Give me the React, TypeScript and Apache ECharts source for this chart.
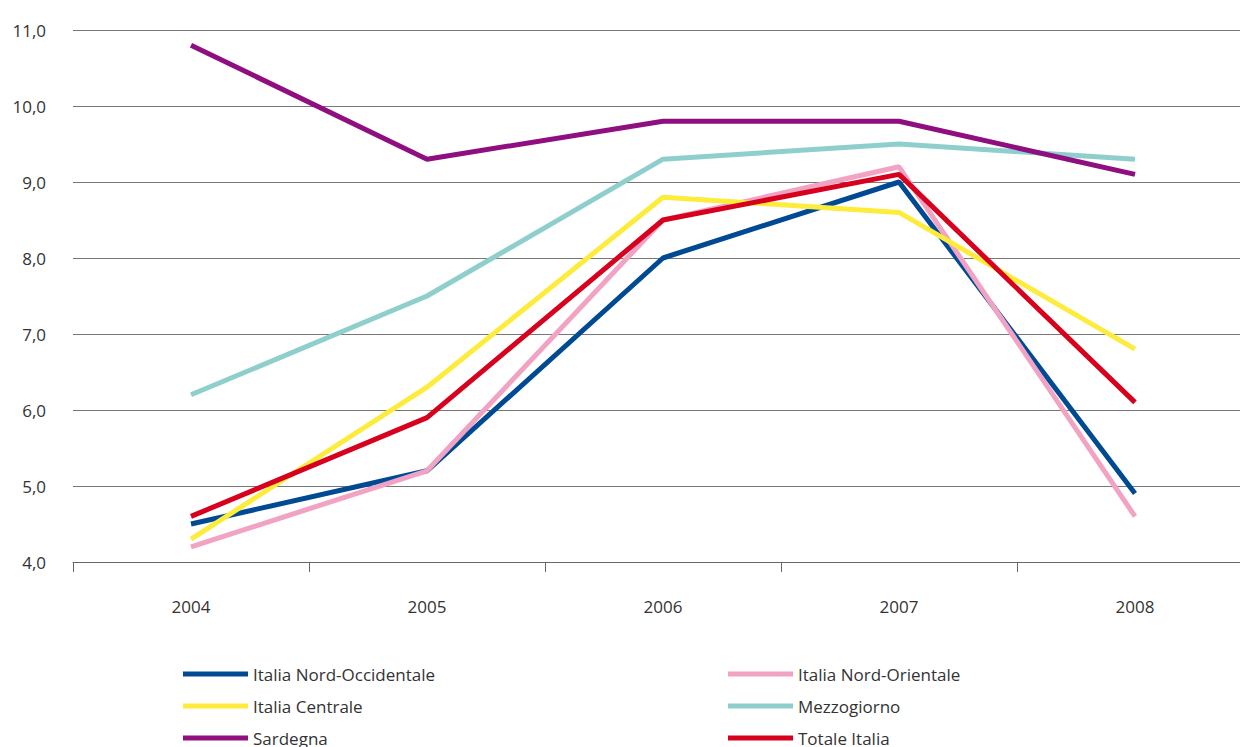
import React, { useEffect, useRef } from "react";
import * as echarts from "echarts";

const years = ["2004", "2005", "2006", "2007", "2008"];
const yTicks = [4, 5, 6, 7, 8, 9, 10, 11];

const nordOccidentale = [4.5, 5.2, 8.0, 9.0, 4.9];
const nordOrientale = [4.2, 5.2, 8.5, 9.2, 4.6];
const centrale = [4.3, 6.3, 8.8, 8.6, 6.8];
const mezzogiorno = [6.2, 7.5, 9.3, 9.5, 9.3];
const sardegna = [10.8, 9.3, 9.8, 9.8, 9.1];
const totale = [4.6, 5.9, 8.5, 9.1, 6.1];

const seriesDefs = [
  { name: "Italia Nord-Occidentale", data: nordOccidentale, color: "#004a93" },
  { name: "Italia Nord-Orientale", data: nordOrientale, color: "#f2a3c4" },
  { name: "Italia Centrale", data: centrale, color: "#fdec3c" },
  { name: "Mezzogiorno", data: mezzogiorno, color: "#8ecfce" },
  { name: "Sardegna", data: sardegna, color: "#8f0e80" },
  { name: "Totale Italia", data: totale, color: "#d7001d" },
];

const leftLegend = ["Italia Nord-Occidentale", "Italia Centrale", "Sardegna"];
const rightLegend = ["Italia Nord-Orientale", "Mezzogiorno", "Totale Italia"];

const FONT = "'Open Sans', 'Noto Sans', sans-serif";

export default function App() {
  const ref = useRef<HTMLDivElement>(null);
  useEffect(() => {
    if (!ref.current) return;
    const chart = echarts.init(ref.current, undefined, { renderer: "svg" });
    const legendText = { color: "#333", fontSize: 17, fontFamily: FONT, lineHeight: 20 };
    const legendBase = {
      top: 664,
      height: 200,
      padding: 0,
      orient: "vertical",
      icon: "rect",
      itemWidth: 65,
      itemHeight: 5,
      itemGap: 12,
      textStyle: legendText,
    };
    chart.setOption({
      animation: false,
      backgroundColor: "#fff",
      grid: {
        left: 73,
        width: 1180,
        top: 30,
        bottom: 747 - 562,
        containLabel: false,
        outerBoundsMode: "none",
      },
      legend: [
        { ...legendBase, left: 183, data: leftLegend },
        { ...legendBase, left: 728, data: rightLegend },
      ],
      xAxis: {
        type: "category",
        data: years,
        boundaryGap: true,
        axisLine: { show: true, lineStyle: { color: "#666", width: 1 } },
        axisTick: { show: true, length: 10, inside: false, lineStyle: { color: "#666" } },
        axisLabel: { color: "#333", fontSize: 17, fontFamily: FONT, margin: 36 },
        splitLine: { show: false },
      },
      yAxis: {
        type: "value",
        min: yTicks[0],
        max: yTicks[yTicks.length - 1],
        interval: 1,
        axisLine: { show: false },
        axisTick: { show: false },
        axisLabel: {
          color: "#333",
          fontSize: 17,
          fontFamily: FONT,
          margin: 27,
          formatter: (v: number) => v.toFixed(1).replace(".", ","),
        },
        splitLine: { show: true, lineStyle: { color: "#777", width: 1 } },
      },
      series: seriesDefs.map((s) => ({
        name: s.name,
        type: "line",
        data: s.data,
        symbol: "none",
        color: s.color,
        lineStyle: { color: s.color, width: 5 },
      })),
    });
    return () => chart.dispose();
  }, []);
  return (
    <div
      ref={ref}
      style={{ position: "fixed", left: 0, top: 0, width: 1240, height: 747 }}
    />
  );
}
